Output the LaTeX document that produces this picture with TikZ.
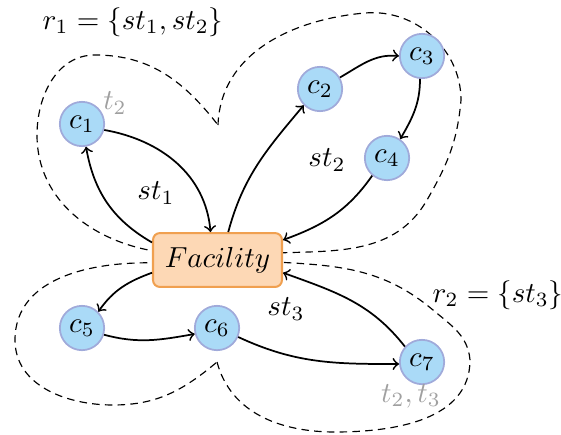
\documentclass[tikz,border=0pt]{standalone}
\usepackage{amsmath,amssymb}
\usepackage{xcolor}
\usepackage{tikz}
\usetikzlibrary{arrows,positioning,calc}
\definecolor{custblue}{RGB}{170, 218, 247}
\definecolor{custedge}{RGB}{160, 170, 218}
\definecolor{facpeach}{RGB}{253, 216, 181}
\definecolor{facorange}{RGB}{240, 160, 80}
\definecolor{timegray}{RGB}{160, 160, 160}

\begin{document}
\begin{tikzpicture}[x=0.345pt,y=-0.345pt,
    customer/.style={circle,fill=custblue,draw=custedge,line width=0.6pt,minimum size=15.3pt,inner sep=0pt},
    facility/.style={rectangle,rounded corners=2.4pt,fill=facpeach,draw=facorange,line width=0.7pt,minimum width=44.5pt,minimum height=18.6pt},
    region/.style={dash pattern=on 2.6pt off 1.8pt,line width=0.4pt},
    route/.style={->,line width=0.6pt}]
    \useasboundingbox (0,0) rectangle (561,434);
    % regions
    \draw[region] (160,252) to[out=172,in=-90] (37,135) to[out=90,in=180] (95,55)
        to[out=0,in=128] (218,125);
    \draw[region] (218,125) to[out=88,in=185] (365,13) to[out=5,in=90] (461,100)
        to[out=-95,in=60] (427,200) to[out=-120,in=2] (275,253);
    \draw[region] (160,263) to[out=178,in=90] (15,340) to[out=-90,in=180] (113,405)
        to[out=0,in=-140] (217,362);
    \draw[region] (217,362) to[out=-75,in=180] (335,432) to[out=0,in=-90] (470,360)
        to[out=95,in=-40] (433,310) to[out=140,in=-3] (275,262);
    % nodes
    \node[facility] (fac) at (217.5,260) {$Facility$};
    \node[customer] (c1) at (82,124) {$c_1$};
    \node[customer] (c2) at (320,89) {$c_2$};
    \node[customer] (c3) at (422,56) {$c_3$};
    \node[customer] (c4) at (387,158) {$c_4$};
    \node[customer] (c5) at (82,328) {$c_5$};
    \node[customer] (c6) at (217,328) {$c_6$};
    \node[customer] (c7) at (422,362) {$c_7$};
    % routes
    \draw[route] (fac.165) to[out=150,in=-80] (c1.-80);
    \draw[route] (c1.-15) to[out=-10,in=95] (fac.104);
    \draw[route] (fac.69) to[out=75,in=-130] (c2.-135);
    \draw[route] (c2.30) to[out=30,in=175] (c3.180);
    \draw[route] (c3.-95) to[out=-90,in=60] (c4.55);
    \draw[route] (c4.-130) to[out=-125,in=20] (fac.17);
    \draw[route] (fac.191) to[out=-160,in=55] (c5.45);
    \draw[route] (c5.-17) to[out=-15,in=190] (c6.195);
    \draw[route] (c6.-23) to[out=-25,in=180] (c7.185);
    \draw[route] (c7.138) to[out=128,in=-20] (fac.-11);
    % labels
    \node (r1) at (133,22) {$r_1 = \{st_1, st_2\}$};
    \node (r2) at (498,295) {$r_2 = \{st_3\}$};
    \node (st1) at (156,193) {$st_1$};
    \node (st2) at (327,160) {$st_2$};
    \node (st3) at (286,309) {$st_3$};
    \node[timegray] (t1) at (115,103) {$t_2$};
    \node[timegray] (t7) at (411,396) {$t_2, t_3$};
\end{tikzpicture}
\end{document}
